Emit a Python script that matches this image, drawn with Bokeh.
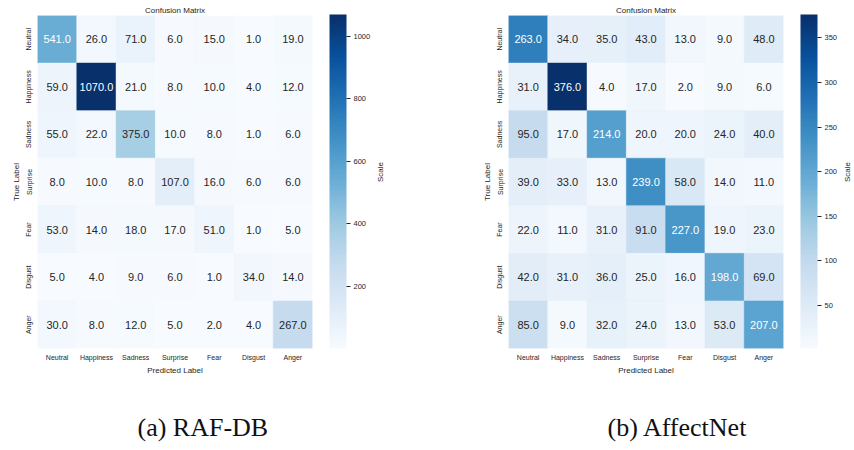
import math
from bokeh.plotting import figure
from bokeh.models import (FactorRange, LinearColorMapper, ColorBar, ColumnDataSource,
                          Title, SingleIntervalTicker, LinearAxis, FixedTicker)
from bokeh.layouts import row
from bokeh.palettes import Blues256
from bokeh.core.properties import value
from bokeh.embed import file_html
from bokeh.resources import INLINE

labels = ["Neutral", "Happiness", "Sadness", "Surprise", "Fear", "Disgust", "Anger"]

# RAF-DB confusion matrix (rows = true label)
raf_neutral = [541, 26, 71, 6, 15, 1, 19]
raf_happiness = [59, 1070, 21, 8, 10, 4, 12]
raf_sadness = [55, 22, 375, 10, 8, 1, 6]
raf_surprise = [8, 10, 8, 107, 16, 6, 6]
raf_fear = [53, 14, 18, 17, 51, 1, 5]
raf_disgust = [5, 4, 9, 6, 1, 34, 14]
raf_anger = [30, 8, 12, 5, 2, 4, 267]

# AffectNet confusion matrix (rows = true label)
aff_neutral = [263, 34, 35, 43, 13, 9, 48]
aff_happiness = [31, 376, 4, 17, 2, 9, 6]
aff_sadness = [95, 17, 214, 20, 20, 24, 40]
aff_surprise = [39, 33, 13, 239, 58, 14, 11]
aff_fear = [22, 11, 31, 91, 227, 19, 23]
aff_disgust = [42, 31, 36, 25, 16, 198, 69]
aff_anger = [85, 9, 32, 24, 13, 53, 207]

raf_rows = [raf_neutral, raf_happiness, raf_sadness, raf_surprise, raf_fear, raf_disgust, raf_anger]
aff_rows = [aff_neutral, aff_happiness, aff_sadness, aff_surprise, aff_fear, aff_disgust, aff_anger]

TXT = "#262626"
SANS = "Liberation Sans"


def make_panel(rows, caption, interval, left, right, cap_dx):
    pred, true, vals = [], [], []
    for t, r in zip(labels, rows):
        for pl, v in zip(labels, r):
            pred.append(pl)
            true.append(t)
            vals.append(v)
    lo, hi = min(vals), max(vals)
    mapper = LinearColorMapper(palette=list(reversed(Blues256)), low=lo, high=hi)
    tcol = ["#ffffff" if (v - lo) / (hi - lo) > 0.45 else TXT for v in vals]
    src = ColumnDataSource(dict(pred=pred, true=true, val=vals,
                                txt=[f"{v:.1f}" for v in vals], tcol=tcol))
    p = figure(x_range=FactorRange(*labels), y_range=FactorRange(*labels[::-1]),
               frame_width=275, frame_height=333,
               min_border_left=left, min_border_right=right,
               min_border_top=15, min_border_bottom=102,
               output_backend="svg", toolbar_location=None)
    p.rect("pred", "true", 1, 1, source=src,
           fill_color={"field": "val", "transform": mapper},
           line_color={"field": "val", "transform": mapper}, line_width=0.5)
    p.text("pred", "true", text="txt", source=src, text_color="tcol",
           text_align="center", text_baseline="middle",
           text_font=value(SANS), text_font_size=value("11px"))

    for ax in (p.xaxis[0], p.yaxis[0]):
        ax.axis_line_color = None
        ax.major_tick_line_color = None
        ax.minor_tick_line_color = None
        ax.major_tick_out = 0
        ax.major_tick_in = 0
        ax.major_label_text_font = SANS
        ax.major_label_text_font_size = "7px"
        ax.major_label_text_color = TXT
        ax.axis_label_text_font = SANS
        ax.axis_label_text_font_size = "8px"
        ax.axis_label_text_font_style = "normal"
        ax.axis_label_text_color = TXT
    p.xaxis.axis_label = "Predicted Label"
    p.yaxis.axis_label = "True Label"
    p.yaxis.major_label_orientation = "vertical"
    p.xaxis.major_label_standoff = 5
    p.xaxis.axis_label_standoff = 2
    p.yaxis.major_label_standoff = 5
    p.yaxis.axis_label_standoff = 2
    p.grid.visible = False
    p.outline_line_color = None

    p.title.text = "Confusion Matrix"
    p.title.align = "center"
    p.title.text_font = SANS
    p.title.text_font_size = "8px"
    p.title.text_font_style = "normal"
    p.title.text_color = TXT
    p.title.standoff = 1

    cb = ColorBar(color_mapper=mapper, width=17, height=334, location=(17, 0),
                  padding=0, margin=0,
                  ticker=SingleIntervalTicker(interval=interval),
                  major_label_text_font=SANS, major_label_text_font_size="7.5px",
                  major_label_text_color=TXT,
                  major_tick_in=0, major_tick_out=4, major_tick_line_color=TXT,
                  minor_tick_line_color=None,
                  label_standoff=3, bar_line_color=None, border_line_color=None,
                  background_fill_color=None)
    p.add_layout(cb, "right")

    scale_axis = LinearAxis(ticker=FixedTicker(ticks=[]), axis_label="Scale",
                            axis_line_color=None, major_tick_line_color=None,
                            minor_tick_line_color=None, major_tick_out=0, major_tick_in=0,
                            major_label_standoff=0, axis_label_standoff=7,
                            axis_label_orientation=math.pi / 2,
                            axis_label_text_font=SANS, axis_label_text_font_size="8px",
                            axis_label_text_font_style="normal",
                            axis_label_text_color=TXT)
    p.add_layout(scale_axis, "right")

    p.add_layout(Title(text=caption, align="left", offset=cap_dx,
                       text_font="Liberation Serif", text_font_size="26px",
                       text_font_style="normal", text_color="#111111",
                       text_line_height=0.9, vertical_align="bottom",
                       standoff=67), "below")
    return p


p1 = make_panel(raf_rows, "(a) RAF-DB", 200, 37, 115, 100)
p2 = make_panel(aff_rows, "(b) AffectNet", 50, 81, 71, 99)

layout = row(p1, p2)
open("out.html", "w").write(file_html(layout, INLINE))
